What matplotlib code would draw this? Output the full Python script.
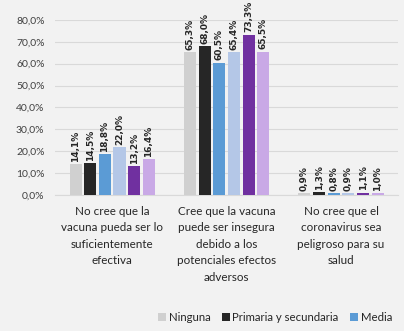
import matplotlib.pyplot as plt
import numpy as np

plt.rcParams['font.family'] = ['Lato', 'DejaVu Sans']

categories = [
    "No cree que la\nvacuna pueda ser lo\nsuficientemente\nefectiva",
    "Cree que la vacuna\npuede ser insegura\ndebido a los\npotenciales efectos\nadversos",
    "No cree que el\ncoronavirus sea\npeligroso para su\nsalud",
]
series_names = ["Ninguna", "Primaria y secundaria", "Media", "Técnica", "Universitaria", "Posgrado"]
values = [
    [14.1, 65.3, 0.9],
    [14.5, 68.0, 1.3],
    [18.8, 60.5, 0.8],
    [22.0, 65.4, 0.9],
    [13.2, 73.3, 1.1],
    [16.4, 65.5, 1.0],
]
colors = ["#d0d0d0", "#262626", "#5b9bd5", "#b4c7e7", "#7030a0", "#c9a9e6"]
yticks = [0, 10, 20, 30, 40, 50, 60, 70, 80]

bg = "#f2f2f2"
fig = plt.figure(figsize=(4.04, 3.31), dpi=100, facecolor=bg)
ax = fig.add_axes([0.136, 0.411, 0.850, 0.529], facecolor=bg)

x = np.arange(len(categories))
n = len(series_names)
step = 0.128
width = 0.105
handles = []
for i, (name, vals, c) in enumerate(zip(series_names, values, colors)):
    pos = x + (i - (n - 1) / 2) * step
    b = ax.bar(pos, vals, width=width, color=c, label=name, zorder=3)
    handles.append(b)
    for p, v in zip(pos, vals):
        ax.text(p, v + 1.0, f"{v:.1f}%".replace(".", ","), rotation=90,
                ha="center", va="bottom", fontsize=6.5, fontweight="bold",
                family=["DejaVu Sans"], color="#262626", zorder=4)

ax.set_ylim(0, 80)
ax.set_xlim(-0.5, 2.5)
ax.set_yticks(yticks)
ax.set_yticklabels([f"{t:.1f}%".replace(".", ",") for t in yticks], fontsize=7.5, color="#404040")
ax.tick_params(axis="y", length=0, pad=7.5)
ax.tick_params(axis="x", length=0, pad=8)
ax.set_xticks(x)
ax.set_xticklabels(categories, fontsize=8.4, color="#262626", linespacing=1.6)
ax.yaxis.grid(True, color="#d9d9d9", linewidth=0.8, zorder=0)
for s in ["top", "right", "left"]:
    ax.spines[s].set_visible(False)
ax.spines["bottom"].set_color("#d9d9d9")

leg = fig.legend(handles[:3], series_names[:3], loc="center left",
                 bbox_to_anchor=(0.365, 0.04), ncol=3, frameon=False,
                 fontsize=8.2, handlelength=0.7, handleheight=0.7,
                 columnspacing=1.0, handletextpad=0.25)
for t in leg.get_texts():
    t.set_color("#262626")

fig.savefig("out.png", dpi=100, facecolor=bg)
